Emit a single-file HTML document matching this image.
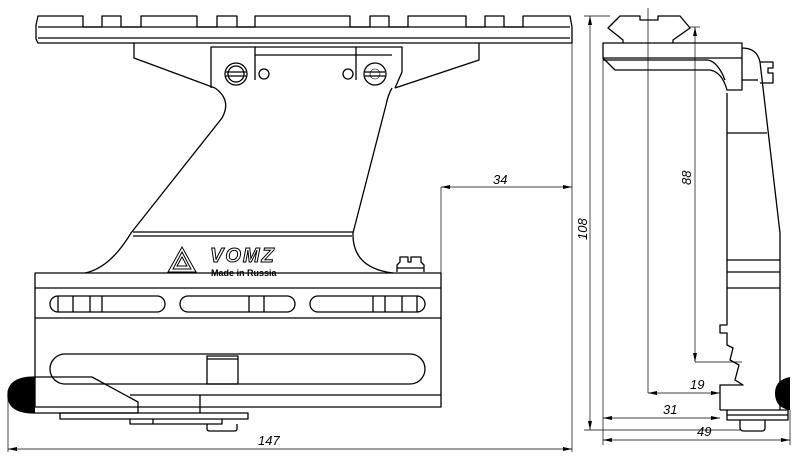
<!DOCTYPE html>
<html><head><meta charset="utf-8"><style>
html,body{margin:0;padding:0;background:#fff;}
svg{display:block;}
text{font-family:"Liberation Sans",sans-serif;font-style:italic;fill:#000;}
</style></head><body>
<svg width="800" height="459" viewBox="0 0 800 459" xmlns="http://www.w3.org/2000/svg">
<g fill="none" stroke="#000" stroke-width="1.3" stroke-linejoin="round">
<path d="M38,16 L83,16 L83,27 L102,27 L102,16 L121,16 L121,27 L141,27 L141,16 L197,16 L197,27 L217,27 L217,16 L237,16 L237,27 L255,27 L255,16 L350,16 L350,27 L370,27 L370,16 L389,16 L389,27 L408,27 L408,16 L466,16 L466,27 L485,27 L485,16 L504,16 L504,27 L523,27 L523,16 L570,16 L572,27 L572,43 L38,43 L36,39 L36,25 Z"/>
<line x1="38" y1="27" x2="570" y2="27"/>
<line x1="38" y1="38" x2="570" y2="38"/>
<path d="M134,43 L134,58 L215,88"/>
<path d="M479,43 L479,60 L395,88"/>
<path d="M211,88 L211,47 L402,47 L402,72 L395,88"/>
<line x1="255" y1="55" x2="392" y2="55"/>
<path d="M255,47 L255,80"/>
<path d="M356,47 L356,80"/>
<circle cx="236" cy="74" r="11"/><circle cx="236" cy="74" r="8"/>
<line x1="226" y1="72" x2="246" y2="72"/><line x1="226" y1="76" x2="246" y2="76"/>
<circle cx="375" cy="74" r="11"/><circle cx="375" cy="74" r="5" stroke-width="0.6"/>
<line x1="365" y1="72" x2="385" y2="72"/><line x1="365" y1="76" x2="385" y2="76"/>
<circle cx="264" cy="74" r="5"/><circle cx="348" cy="74" r="5"/>
<path d="M215,88 Q232,100 222,118 L131,233 Q110,268 85,273"/>
<path d="M392,88 Q388,95 386,105 L353,233 Q352,268 393,273"/>
<line x1="133" y1="232" x2="353" y2="232"/>
<line x1="133" y1="236" x2="352" y2="236"/>
<path d="M397,272 L397,265 L400,262 L400,257 L408,257 L408,262 L411,262 L411,257 L421,257 L421,262 L424,265 L424,272"/>
<line x1="397" y1="268" x2="424" y2="268"/>
<rect x="35" y="273" width="406" height="134"/>
<line x1="35" y1="288" x2="441" y2="288"/>
<line x1="35" y1="318" x2="441" y2="318"/>
<rect x="50" y="296" width="115" height="16" rx="8"/>
<rect x="180" y="296" width="115" height="16" rx="8"/>
<rect x="310" y="296" width="115" height="16" rx="8"/>
<path d="M58,296v16M73,296v16M90,296v16M102,296v16M249,296v16M264,296v16M373,296v16M385,296v16M402,296v16M417,296v16"/>
<rect x="50" y="354" width="375" height="30" rx="15"/>
<rect x="207" y="356" width="31" height="28"/>
<line x1="207" y1="359" x2="238" y2="359"/>
<line x1="130" y1="395" x2="441" y2="395"/>
<path d="M35,377 L92,377 L138,402 L138,413 L35,413"/>
<path d="M35,377 Q8,377 8,395 Q8,413 35,413" fill="#000"/>
<path d="M60,413 L60,419 L248,419 L248,413 Z"/>
<path d="M130,419 L130,424 L222,424 L222,419"/>
<path d="M207,424 L207,429 Q207,431 210,431 L234,431 Q237,431 237,429 L237,424"/>
<line x1="153" y1="419" x2="153" y2="424"/><line x1="200" y1="395" x2="200" y2="413"/>
</g>
<g fill="none" stroke="#000" stroke-width="1">
<path d="M182,247 L196,272 L168,272 Z"/><path d="M182,252 L191,269 L173,269 Z"/><path d="M182,257 L187,266 L177,266 Z"/>
</g>
<text x="210" y="262" font-size="20" font-weight="bold" fill="none" stroke="#000" stroke-width="1" style="fill:none;letter-spacing:2px">VOMZ</text>
<text x="211" y="276" font-size="9" font-weight="bold" style="font-style:normal">Made in Russia</text>
<g fill="none" stroke="#000" stroke-width="0.7">
<line x1="8" y1="390" x2="8" y2="452"/>
<line x1="572" y1="43" x2="572" y2="452"/>
<line x1="8" y1="449" x2="572" y2="449"/>
<line x1="441" y1="187" x2="441" y2="273"/>
<line x1="441" y1="187" x2="572" y2="187"/>
<line x1="590" y1="16" x2="590" y2="430"/>
<line x1="584" y1="16" x2="610" y2="16"/>
<line x1="584" y1="430" x2="740" y2="430"/>
</g>
<g fill="#000">
<path d="M8,449 l9,-2 v4z"/><path d="M572,449 l-9,-2 v4z"/>
<path d="M441,187 l9,-2 v4z"/><path d="M572,187 l-9,-2 v4z"/>
<path d="M590,16 l-2,9 h4z"/><path d="M590,430 l-2,-9 h4z"/>
</g>
<text x="258" y="445" font-size="13">147</text>
<text x="493" y="184" font-size="13">34</text>
<text transform="translate(587,240) rotate(-90)" font-size="13">108</text>
<g fill="none" stroke="#000" stroke-width="1.3" stroke-linejoin="round">
<path d="M623,43 L623,40 L608,28 L620,16 L640,16 L640,20 L658,20 L658,16 L680,16 L690,28 L673,40 L673,43"/>
<rect x="603" y="43" width="139" height="15"/>
<path d="M603,58 L615,70 L710,70 Q722,72 727,90 L742,90 L742,58"/>
<line x1="603" y1="60" x2="708" y2="60"/>
<path d="M708,60 Q718,62 725,80"/>
<path d="M727,93 L727,325 L720,325 L720,333 L727,333 L727,345 L733,348 L730,360 L739,365 L735,380 L743,385 L720,385 L720,410"/>
<path d="M742,48 Q757,48 760,62 L780,233 L780,410"/>
<line x1="742" y1="80" x2="758" y2="80"/>
<path d="M760,62 L773,62 L773,68 L768,68 L768,73 L773,73 L773,83 L760,83"/>
<path d="M727,133 H767 M727,260 H780 M727,272 H780 M727,288 H780"/>
<path d="M720,410 L727,410 L727,420 L788,420 L788,410 L720,410"/>
<path d="M727,415 L788,415"/>
<path d="M740,420 L740,428 Q740,431 744,431 L762,431 Q765,431 765,428 L765,420"/>
</g>
<path d="M790,377 Q775,380 775,393 Q775,408 790,410 Z" fill="#000"/>
<g fill="none" stroke="#000" stroke-width="0.7">
<line x1="648" y1="8" x2="648" y2="393"/>
<line x1="648" y1="393" x2="720" y2="393"/>
<line x1="603" y1="58" x2="603" y2="445"/>
<line x1="603" y1="418" x2="720" y2="418"/>
<line x1="695" y1="27" x2="695" y2="362"/>
<line x1="690" y1="27" x2="700" y2="27"/>
<line x1="695" y1="362" x2="742" y2="362"/>
<line x1="603" y1="440" x2="790" y2="440"/>
<line x1="790" y1="410" x2="790" y2="445"/>
</g>
<g fill="#000">
<path d="M648,393 l9,-2 v4z"/><path d="M720,393 l-9,-2 v4z"/>
<path d="M603,418 l9,-2 v4z"/><path d="M720,418 l-9,-2 v4z"/>
<path d="M695,27 l-2,9 h4z"/><path d="M695,362 l-2,-9 h4z"/>
<path d="M603,440 l9,-2 v4z"/><path d="M790,440 l-9,-2 v4z"/>
</g>
<text x="690" y="389" font-size="13">19</text>
<text x="663" y="414" font-size="13">31</text>
<text x="697" y="436" font-size="13">49</text>
<text transform="translate(691,185) rotate(-90)" font-size="13">88</text>
</svg>
</body></html>
